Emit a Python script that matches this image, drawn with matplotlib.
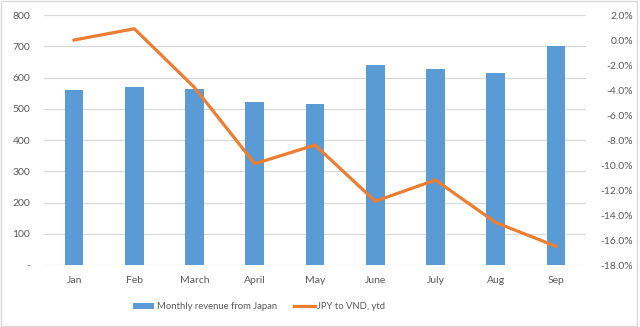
import matplotlib.pyplot as plt
import numpy as np
from matplotlib.patches import Rectangle

months = ['Jan', 'Feb', 'March', 'April', 'May', 'June', 'July', 'Aug', 'Sep']
revenue = [560, 570, 563, 522, 515, 640, 627, 614, 700]
jpy_vnd_ytd = [0.0, 0.9, -3.8, -9.9, -8.4, -12.9, -11.2, -14.6, -16.5]

blue = '#5B9BD5'
orange = '#ED7D31'
grey_text = '#595959'

plt.rcParams['font.family'] = ['Lato', 'DejaVu Sans']

fig = plt.figure(figsize=(6.4, 3.27), dpi=100)
fig.patches.append(Rectangle((0.002, 0.004), 0.994, 0.993, transform=fig.transFigure,
                             fill=False, edgecolor='#D9D9D9', linewidth=1))
ax = fig.add_axes([0.06875, 0.1896, 0.8469, 0.7645])
x = np.arange(len(months))

ax.bar(x, revenue, width=0.31, color=blue, label='Monthly revenue from Japan', zorder=2)
ax.set_ylim(0, 800)
ax.set_yticks(range(0, 801, 100))
ax.set_yticklabels(['-'] + [str(v) for v in range(100, 801, 100)])
ax.set_xlim(-0.5, len(months) - 0.5)
ax.set_xticks(x)
ax.set_xticklabels(months)
ax.grid(axis='y', color='#D9D9D9', linewidth=0.9, zorder=0)
ax.set_axisbelow(True)

ax2 = ax.twinx()
ax2.plot(x, jpy_vnd_ytd, color=orange, linewidth=2.3, label='JPY to VND, ytd', zorder=3)
ax2.set_ylim(-18, 2)
ax2.set_yticks(np.arange(-18, 2.1, 2))
ax2.set_yticklabels([f'{v:.1f}%' for v in np.arange(-18, 2.1, 2)])
for lbl in ax2.get_yticklabels():
    lbl.set_horizontalalignment('right')

for a in (ax, ax2):
    for s in a.spines.values():
        s.set_visible(False)
    a.tick_params(length=0, colors=grey_text, labelsize=7.5)
ax.tick_params(axis='x', pad=8)
ax.tick_params(axis='y', pad=10)
ax2.tick_params(axis='y', pad=34)

h1, l1 = ax.get_legend_handles_labels()
h2, l2 = ax2.get_legend_handles_labels()
leg = fig.legend(h1 + h2, l1 + l2, loc='center', bbox_to_anchor=(0.405, 0.062), ncol=2,
                 frameon=False, fontsize=6.8, handlelength=2.2, handleheight=0.6,
                 columnspacing=1.8, handletextpad=0.3)
for t in leg.get_texts():
    t.set_color(grey_text)

fig.savefig('out.png', dpi=100)
